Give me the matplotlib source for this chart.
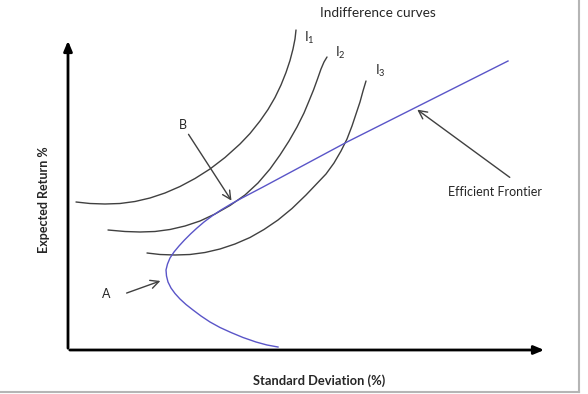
import matplotlib
matplotlib.use("Agg")
import matplotlib.pyplot as plt

# Diagrama de curvas de indiferencia y frontera eficiente
# Coordenadas en pixeles de la imagen (origen arriba a la izquierda)

# Curvas de indiferencia I1, I2, I3 (x, y)
i1_x = [76, 90, 105, 120, 135, 150, 165, 180, 195, 210, 225, 240, 250, 260, 268, 275,
        281, 286, 290, 293, 295, 296]
i1_y = [202, 203.5, 204, 203.5, 201.5, 198, 193, 186.5, 178.5, 169, 157.5, 144, 133.5,
        121, 109.5, 97.5, 85, 72.5, 60.5, 49, 39, 30]

i2_x = [108, 125, 140, 155, 170, 185, 200, 215, 230, 245, 258, 270, 280, 289, 297, 304,
        309, 313.5, 317.5, 321, 324, 327]
i2_y = [230, 231.5, 232, 231.5, 229.5, 226, 221, 214, 205.5, 195, 183, 169, 155, 141,
        127, 113, 101, 90, 79, 69, 62, 57]

i3_x = [147, 160, 175, 190, 205, 220, 235, 250, 264, 278, 292, 306, 316, 326, 334, 341,
        347, 352, 356, 360, 363, 366]
i3_y = [253, 254.5, 255, 254.5, 252.5, 249, 244, 237.5, 229.5, 220, 208.5, 195, 184.5,
        174, 163, 151, 139, 126, 114, 102, 91, 81]

# Frontera eficiente
front_x = [278, 267, 256, 243, 231, 220, 210, 201, 193, 186, 180, 175, 171, 168, 166.5, 166,
           167.5, 170, 174, 179, 184.5, 190.5, 197, 204, 212, 221, 231, 242, 263, 347, 508]
front_y = [347, 345, 342, 337.5, 332.5, 327.5, 322, 316, 310, 304.5, 299, 293.5, 288, 282,
           276, 270, 264, 258, 252, 246, 240, 234, 228, 222, 216, 210, 204, 198, 187, 142, 61]

curve_labels = [r"$\mathregular{I_1}$", r"$\mathregular{I_2}$", r"$\mathregular{I_3}$"]

plt.rcParams['font.family'] = ['Lato', 'DejaVu Sans']

fig = plt.figure(figsize=(5.88, 3.94), dpi=100)
ax = fig.add_axes([0, 0, 1, 1])
ax.set_xlim(0, 588)
ax.set_ylim(394, 0)
ax.axis("off")

gray = "#404040"
text_c = "#262626"

# marco
ax.plot([579, 579], [0, 392], color="#b5b5b5", lw=1.5)
ax.plot([0, 579], [392, 392], color="#b5b5b5", lw=1.5)

# ejes con flechas
ax.annotate("", xy=(68, 38), xytext=(68, 351),
            arrowprops=dict(arrowstyle="-|>,head_length=0.6,head_width=0.25", color="black", lw=2))
ax.annotate("", xy=(547, 350), xytext=(67, 350),
            arrowprops=dict(arrowstyle="-|>,head_length=0.6,head_width=0.25", color="black", lw=2))

# curvas
for xs, ys in [(i1_x, i1_y), (i2_x, i2_y), (i3_x, i3_y)]:
    ax.plot(xs, ys, color=gray, lw=1.0, solid_capstyle="round", solid_joinstyle="round")
ax.plot(front_x, front_y, color="#5a55c8", lw=1.0, solid_joinstyle="round")

# etiquetas de curvas
for lab, (tx, ty) in zip(curve_labels, [(309, 38), (340, 53), (380, 71)]):
    ax.text(tx, ty, lab, fontsize=9.5, color=text_c, ha="center", va="center")

ax.text(320, 13, "Indifference curves", fontsize=9.8, color=text_c, ha="left", va="center")

# anotaciones
arrow_kw = dict(arrowstyle="->,head_length=0.6,head_width=0.3", color=gray, lw=1.0)
ax.annotate("", xy=(233, 203), xytext=(187, 132), arrowprops=arrow_kw)
ax.text(183, 125, "B", fontsize=9, color=text_c, ha="center", va="center")

ax.annotate("", xy=(163, 280), xytext=(124, 294), arrowprops=arrow_kw)
ax.text(106, 294, "A", fontsize=9, color=text_c, ha="center", va="center")

ax.annotate("", xy=(415, 108), xytext=(512, 179), arrowprops=arrow_kw)
ax.text(495, 192, "Efficient Frontier", fontsize=9, color=text_c, ha="center", va="center")

# titulos de ejes
ax.text(319, 381, "Standard Deviation (%)", fontsize=9.3, fontweight="bold",
        color=text_c, ha="center", va="center")
ax.text(44, 200, "Expected Return %", fontsize=9, fontweight="bold",
        color=text_c, ha="center", va="center", rotation=90)

fig.savefig("out.png", dpi=100)
